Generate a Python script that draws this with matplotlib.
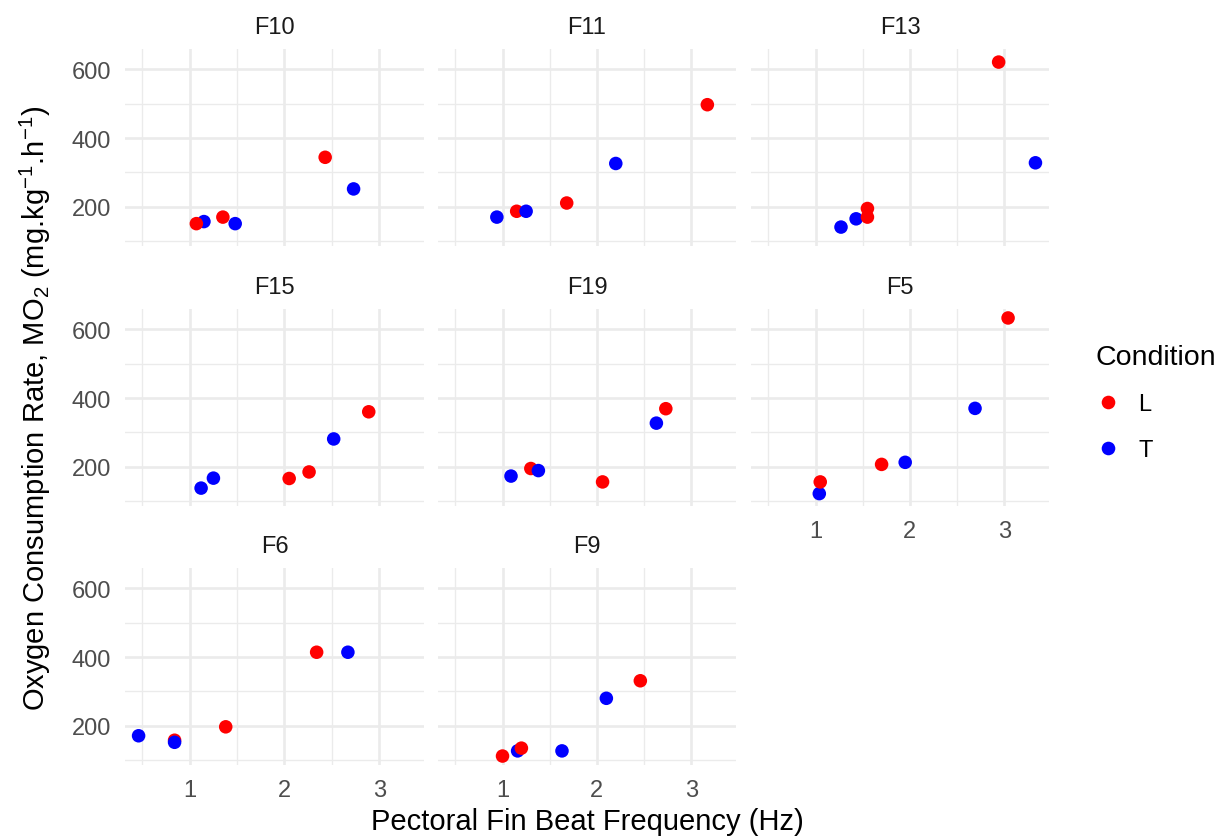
import numpy as np
import matplotlib
matplotlib.use("Agg")
import matplotlib.pyplot as plt
from matplotlib.ticker import MultipleLocator
from matplotlib.lines import Line2D

plt.rcParams['font.family'] = ['Liberation Sans', 'DejaVu Sans']
plt.rcParams['mathtext.fontset'] = 'custom'
plt.rcParams['mathtext.rm'] = 'Liberation Sans'

# Данные (рыба, условие, частота, MO2)
fish = ['F10'] * 6 + ['F11'] * 6 + ['F13'] * 6 + ['F15'] * 6 + \
       ['F19'] * 6 + ['F5'] * 6 + ['F6'] * 6 + ['F9'] * 6
cond = ['T', 'L', 'L', 'T', 'L', 'T',
        'T', 'L', 'T', 'L', 'T', 'L',
        'T', 'T', 'L', 'L', 'L', 'T',
        'T', 'T', 'L', 'L', 'T', 'L',
        'T', 'L', 'T', 'L', 'T', 'L',
        'T', 'L', 'L', 'T', 'T', 'L',
        'T', 'L', 'T', 'L', 'L', 'T',
        'L', 'T', 'L', 'T', 'T', 'L']
freq = [1.15, 1.07, 1.35, 1.48, 2.43, 2.73,
        0.94, 1.15, 1.25, 1.68, 2.20, 3.17,
        1.27, 1.43, 1.55, 1.55, 2.94, 3.33,
        1.12, 1.25, 2.05, 2.26, 2.52, 2.89,
        1.09, 1.30, 1.38, 2.06, 2.63, 2.73,
        1.04, 1.05, 1.70, 1.95, 2.69, 3.04,
        0.46, 0.84, 0.84, 1.38, 2.34, 2.67,
        1.00, 1.16, 1.20, 1.63, 2.10, 2.46]
mo2 = [157, 151, 170, 151, 344, 252,
       170, 187, 187, 211, 326, 497,
       141, 165, 195, 170, 621, 328,
       138, 167, 166, 185, 281, 360,
       173, 195, 189, 156, 327, 369,
       122, 156, 207, 213, 370, 633,
       171, 158, 152, 197, 414, 414,
       112, 127, 135, 127, 280, 331]

panels = ['F10', 'F11', 'F13', 'F15', 'F19', 'F5', 'F6', 'F9']
levels = ['L', 'T']
palette = {'L': '#FF0000', 'T': '#0000FF'}

fish = np.array(fish)
cond = np.array(cond)
freq = np.array(freq)
mo2 = np.array(mo2)

W, H = 1220, 837
fig = plt.figure(figsize=(W / 100, H / 100), dpi=100)

# пределы как в ggplot (расширение 5%)
xr = freq.max() - freq.min()
yr = mo2.max() - mo2.min()
xlim = (freq.min() - 0.05 * xr, freq.max() + 0.05 * xr)
ylim = (mo2.min() - 0.05 * yr, mo2.max() + 0.05 * yr)

col_x = [(125, 424), (438, 736), (751, 1049)]
row_y = [(50, 247), (310, 507), (569, 766)]

for i, name in enumerate(panels):
    r, c = divmod(i, 3)
    x0, x1 = col_x[c]
    y0, y1 = row_y[r]
    ax = fig.add_axes([x0 / W, 1 - y1 / H, (x1 - x0) / W, (y1 - y0) / H])
    m = fish == name
    ax.scatter(freq[m], mo2[m], c=[palette[k] for k in cond[m]], s=95,
               linewidths=0, zorder=3)
    ax.set_xlim(xlim)
    ax.set_ylim(ylim)
    ax.xaxis.set_major_locator(MultipleLocator(1))
    ax.xaxis.set_minor_locator(MultipleLocator(0.5))
    ax.yaxis.set_major_locator(MultipleLocator(200))
    ax.yaxis.set_minor_locator(MultipleLocator(100))
    ax.grid(True, which='major', color='#EBEBEB', lw=1.9)
    ax.grid(True, which='minor', color='#EBEBEB', lw=0.95)
    ax.set_axisbelow(True)
    for s in ax.spines.values():
        s.set_visible(False)
    ax.tick_params(which='both', length=0, labelsize=17, labelcolor='#4D4D4D')
    ax.tick_params(axis='x', pad=10)
    ax.tick_params(axis='y', pad=10)
    if c != 0:
        ax.set_yticklabels([])
    if i + 3 < len(panels):
        ax.set_xticklabels([])
    ax.text(0.5, 1 + 22 / (y1 - y0), name, transform=ax.transAxes,
            ha='center', va='center', fontsize=17, color='#1A1A1A')

fig.text(587 / W, 1 - 822 / H, 'Pectoral Fin Beat Frequency (Hz)',
         ha='center', va='center', fontsize=21)
fig.text(35 / W, 1 - 408 / H,
         r'Oxygen Consumption Rate, MO$_\mathregular{2}$ (mg.kg$^\mathregular{-1}$.h$^\mathregular{-1}$)',
         ha='center', va='center', rotation=90, fontsize=21)

handles = [Line2D([], [], ls='', marker='o', ms=9.8, mec='none', color=palette[k])
           for k in levels]
leg = fig.legend(handles, levels, title='Condition', loc='upper left',
                 bbox_to_anchor=(1084 / W, 1 - 333 / H), frameon=False,
                 fontsize=17, title_fontsize=20.5, handlelength=1.0,
                 handletextpad=0.8, labelspacing=1.0, borderpad=0,
                 alignment='left')

fig.savefig('out.png', dpi=100)
